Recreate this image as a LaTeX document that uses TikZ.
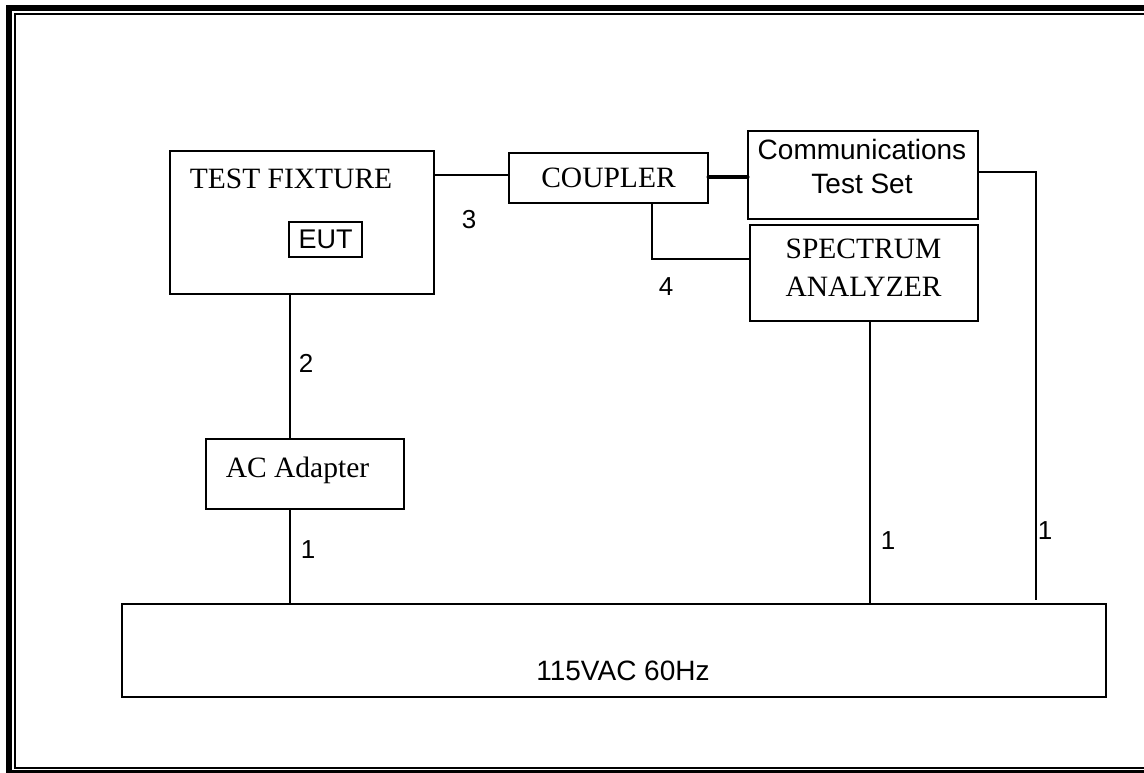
\documentclass[tikz,border=0pt]{standalone}
\usepackage{fontspec}
\setmainfont{Liberation Serif}
\setsansfont{Liberation Sans}
\usetikzlibrary{positioning}

\begin{document}
\begin{tikzpicture}[
  x=1pt, y=-1pt,
  every node/.style={inner sep=0pt, align=center},
  box/.style={draw, line width=1.5pt},
  rmtext/.style={font=\fontsize{29.5}{38}\selectfont},
  sftext/.style={font=\sffamily\fontsize{28}{34}\selectfont},
  num/.style={font=\sffamily\fontsize{26}{30}\selectfont},
  wire/.style={line width=1.5pt},
  bus/.style={line width=4.5pt, line cap=round}
]
\useasboundingbox (0,0) rectangle (1144,773);
\clip (0,0) rectangle (1144,773);

% page frame
\draw[line width=6pt] (9,8) rectangle (1170,773);
\draw[line width=2pt] (15,14) rectangle (1160,768);

\node[box, minimum width=264pt, minimum height=143pt] (fixture) at (302,222.5) {};
\node[rmtext, anchor=base] (fixturetxt) at (291,189) {TEST FIXTURE};
\node[box, font=\sffamily\fontsize{27}{30}\selectfont, minimum width=73pt, minimum height=35pt] (eut) at (325.5,239.5) {EUT};

\node[box, rmtext, minimum width=199pt, minimum height=50pt] (coupler) at (608.5,178) {COUPLER};

\node[box, minimum width=230pt, minimum height=88pt] (comm) at (863,175) {};
\node[sftext] (commtxt) at (862,166) {Communications\\Test Set};

\node[box, minimum width=228pt, minimum height=96pt] (spec) at (864,273) {};
\node[rmtext] (spectxt) at (863.5,268) {SPECTRUM\\ANALYZER};

\node[box, minimum width=198pt, minimum height=70pt] (adapter) at (305,474) {};
\node[rmtext, anchor=base] (adaptertxt) at (297.5,477) {AC Adapter};

\node[box, minimum width=984pt, minimum height=93pt] (mains) at (614,650.5) {};
\node[sftext, anchor=base] (mainstxt) at (623,680) {115VAC 60Hz};

% cable numbers
\node[num] (n3) at (469,220) {3};
\node[num] (n4) at (666,287) {4};
\node[num] (n2) at (306,363) {2};
\node[num] (n1a) at (308,550) {1};
\node[num] (n1b) at (888,541) {1};
\node[num] (n1c) at (1045,531) {1};

% cables
\draw[wire] ([yshift=3pt]coupler.west) -- ([yshift=3pt]coupler.west -| fixture.east);
\draw[bus] ([yshift=1pt]coupler.east) -- ([yshift=1pt]coupler.east -| comm.west);
\draw[wire] ([xshift=43.5pt]coupler.south) |- ([yshift=14pt]spec.west);
\draw[wire] ([xshift=-12pt]fixture.south) -- ([xshift=-12pt]fixture.south |- adapter.north);
\draw[wire] ([xshift=-15pt]adapter.south) -- ([xshift=-15pt]adapter.south |- mains.north);
\draw[wire] ([xshift=6pt]spec.south) -- ([xshift=6pt]spec.south |- mains.north);
\draw[wire] ([yshift=3pt]comm.east) -| ([xshift=422pt,yshift=3pt]mains.north);

\end{tikzpicture}
\end{document}
